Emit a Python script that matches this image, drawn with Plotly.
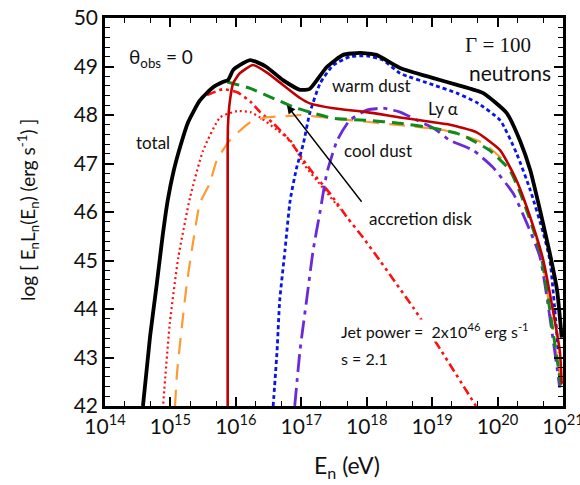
import plotly.graph_objects as go

# ---- data (log10 of E_n in eV, log10 of E L(E) in erg/s) ----
total_logE = [14.58, 14.69, 14.79, 14.88, 14.96, 15.05, 15.15, 15.27, 15.45, 15.65, 15.8, 15.88, 15.96, 16.06, 16.22, 16.32, 16.47, 16.72, 16.98, 17.13, 17.39, 17.64, 17.9, 18.15, 18.51, 19.02, 19.38, 19.78, 20.14, 20.34, 20.5, 20.65, 20.8, 20.91, 20.98]
total_L = [42.0, 43.45, 44.5, 45.5, 46.25, 46.85, 47.35, 47.85, 48.3, 48.57, 48.68, 48.72, 48.93, 49.03, 49.13, 49.09, 48.99, 48.72, 48.52, 48.54, 48.99, 49.24, 49.28, 49.24, 48.97, 48.76, 48.62, 48.45, 48.04, 47.48, 46.86, 46.03, 45.14, 44.38, 43.41]

lya_logE = [15.875, 15.875, 15.88, 15.91, 15.96, 16.06, 16.26, 16.47, 16.72, 16.98, 17.13, 17.49, 18.0, 18.51, 19.02, 19.27, 19.68, 20.04, 20.29, 20.5, 20.7, 20.95, 20.98]
lya_L = [42.0, 47.3, 47.8, 48.3, 48.66, 48.86, 49.03, 48.88, 48.62, 48.35, 48.24, 48.14, 48.06, 47.95, 47.85, 47.8, 47.64, 47.27, 46.65, 45.89, 45.0, 43.14, 42.46]

disk_logE = [15.87, 16.22, 16.63, 16.93, 17.13, 17.49, 18.0, 18.51, 19.02, 19.38, 19.53, 19.88, 20.19, 20.39, 20.6, 20.68, 20.97]
disk_L = [48.68, 48.55, 48.31, 48.14, 48.06, 47.93, 47.89, 47.83, 47.73, 47.62, 47.54, 47.27, 46.86, 46.24, 45.41, 45.0, 42.4]

orange_logE = [15.07, 15.1, 15.18, 15.25, 15.35, 15.45, 15.6, 15.71, 15.91, 16.22, 16.47, 16.83, 16.98, 17.49, 18.51, 19.17, 19.78, 20.19, 20.5, 20.68, 20.96]
orange_L = [42.0, 42.67, 43.7, 44.52, 45.41, 46.18, 46.59, 47.07, 47.48, 47.85, 47.95, 47.98, 48.0, 47.93, 47.79, 47.69, 47.42, 46.92, 45.89, 45.0, 42.5]

warm_logE = [16.57, 16.63, 16.67, 16.75, 16.83, 16.93, 17.03, 17.13, 17.29, 17.49, 17.74, 18.0, 18.25, 18.51, 19.02, 19.38, 19.68, 20.04, 20.29, 20.5, 20.7, 20.8, 20.93]
warm_L = [42.0, 43.14, 44.17, 45.2, 46.24, 46.92, 47.4, 48.04, 48.66, 49.03, 49.2, 49.22, 49.13, 48.86, 48.62, 48.45, 48.26, 47.89, 47.21, 46.45, 45.56, 45.0, 43.1]

cool_logE = [16.9, 16.98, 17.08, 17.18, 17.29, 17.39, 17.55, 17.74, 18.0, 18.25, 18.51, 18.77, 19.02, 19.27, 19.63, 19.93, 20.24, 20.45, 20.65, 20.95]
cool_L = [42.0, 43.14, 44.17, 45.2, 46.03, 46.8, 47.48, 47.89, 48.1, 48.14, 48.06, 47.89, 47.73, 47.48, 47.27, 46.92, 46.38, 45.76, 45.06, 42.38]

dashdot_logE = [15.56, 15.8, 16.02, 16.22, 16.37, 16.57, 16.78, 16.93, 17.03, 17.18, 17.44, 17.7, 17.94, 18.2, 18.71, 19.04, 19.67]
dashdot_L = [48.41, 48.53, 48.47, 48.28, 48.06, 47.83, 47.54, 47.27, 47.07, 46.8, 46.38, 45.89, 45.48, 45.0, 44.03, 43.35, 42.0]

dotted_logE = [14.89, 14.99, 15.12, 15.3, 15.5, 15.76, 16.02, 16.22, 16.37, 16.63, 16.83, 16.93, 17.03, 17.33, 17.6]
dotted_L = [42.05, 43.7, 45.06, 46.3, 47.27, 47.95, 48.08, 48.06, 47.95, 47.69, 47.48, 47.27, 47.0, 46.5, 46.05]

xtick_exp = [14, 15, 16, 17, 18, 19, 20, 21]
ytick_vals = [42, 43, 44, 45, 46, 47, 48, 49, 50]

FONT = "Lato, 'Liberation Sans', sans-serif"

def E(v):
    return [10.0 ** a for a in v]

fig = go.Figure()

def add(xs, ys, color, width, dash):
    fig.add_trace(go.Scatter(x=E(xs), y=ys, mode="lines", line=dict(color=color, width=width, dash=dash, shape="spline", smoothing=0.5), showlegend=False, hoverinfo="skip"))

add(dotted_logE, dotted_L, "#FF1010", 2.2, "2px,3px")
add(dashdot_logE, dashdot_L, "#FF1010", 2.6, "9px,4px,3px,4px,3px,4px")
add(orange_logE, orange_L, "#FF9933", 2.2, "16px,10px")
add(cool_logE, cool_L, "#6A2BD6", 2.8, "18px,6px,4px,6px")
add(warm_logE, warm_L, "#0A14E6", 2.8, "4px,3px")
add(disk_logE, disk_L, "#0F8A1E", 3.0, "12px,7px")
add(lya_logE, lya_L, "#C00000", 2.6, "solid")
add(total_logE, total_L, "#000000", 3.8, "solid")

axis_common = dict(showline=True, linecolor="black", linewidth=2.5, mirror="allticks", ticks="inside",
                   tickcolor="black", showgrid=False, zeroline=False, ticklabeloverflow="allow",
                   automargin=False, tickfont=dict(family=FONT, size=21, color="#111"))

fig.update_xaxes(type="log", range=[14, 21], tickvals=[10.0 ** e for e in xtick_exp],
                 ticktext=["10<sup>%d</sup>" % e for e in xtick_exp], ticklen=9, tickwidth=1.5,
                 minor=dict(ticks="inside", ticklen=5, tickcolor="black", tickwidth=1.2, showgrid=False),
                 **axis_common)
fig.update_yaxes(range=[42, 50], tickvals=ytick_vals, ticklen=9, tickwidth=1.5,
                 minor=dict(dtick=0.2, ticks="inside", ticklen=5, tickcolor="black", tickwidth=1.2, showgrid=False),
                 **axis_common)

# axis titles as paper annotations
fig.add_annotation(xref="paper", yref="paper", x=(347 - 105) / 458, y=-(467 - 406) / 388,
                   text="E<sub>n</sub> (eV)", showarrow=False, xanchor="center", yanchor="middle",
                   font=dict(family=FONT, size=23, color="#111"))
fig.add_annotation(xref="paper", yref="paper", x=-(105 - 28) / 458, y=(406 - 210) / 388,
                   text="log [ E<sub>n</sub>L<sub>n</sub>(E<sub>n</sub>) (erg s<sup>-1</sup>) ]",
                   textangle=-90, showarrow=False, xanchor="center", yanchor="middle",
                   font=dict(family=FONT, size=19, color="#111"))

def note(x, y, text, size=17, family=FONT, bg=None, xanchor="left"):
    fig.add_annotation(x=x, y=y, xref="x", yref="y", text=text, showarrow=False, xanchor=xanchor,
                       yanchor="middle", font=dict(family=family, size=size, color="#111"),
                       bgcolor=bg, borderpad=0)

note(14.35, 49.17, "θ<sub>obs</sub> = 0", size=19)
note(20.53, 49.44, "Γ = 100", size=21, family="'Liberation Serif', 'DejaVu Serif', serif", xanchor="right")
note(20.83, 48.88, "neutrons", size=21, xanchor="right")
note(17.45, 48.6, "warm dust", size=17)
note(18.92, 48.14, "Ly α", size=17)
note(14.46, 47.44, "total", size=17)
note(17.64, 47.27, "cool dust", size=17)
note(18.02, 45.87, "accretion disk", size=17)
note(17.59, 43.55, "Jet power =  2x10<sup>46</sup> erg s<sup>-1</sup>", size=16, bg="white")
note(17.59, 42.98, "s = 2.1", size=16)

fig.add_annotation(x=16.78, y=48.2, ax=17.94, ay=46.18, xref="x", yref="y",
                   axref="x", ayref="y", text="", showarrow=True, arrowhead=2, arrowsize=1.2,
                   arrowwidth=1.4, arrowcolor="black")

fig.update_layout(width=580, height=485, margin=dict(l=105, r=17, t=18, b=79, autoexpand=False),
                  paper_bgcolor="white", plot_bgcolor="white")

fig.write_html("out.html")
